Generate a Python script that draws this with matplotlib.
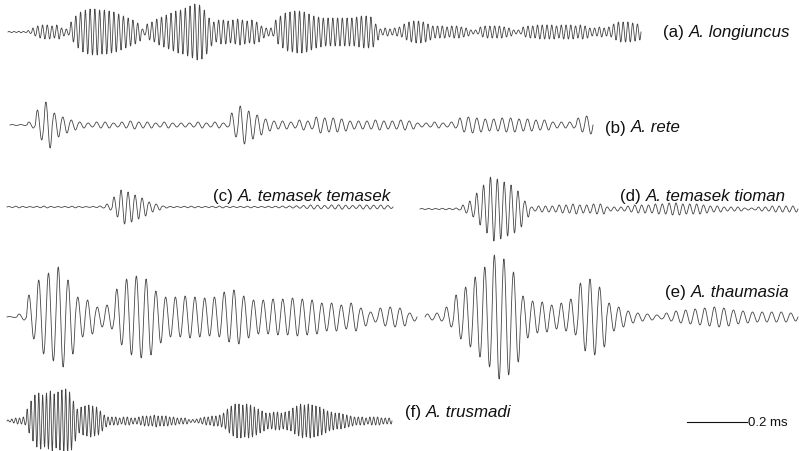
import numpy as np
import matplotlib
matplotlib.use("Agg")
import matplotlib.pyplot as plt

plt.rcParams["font.family"] = ["Liberation Sans", "DejaVu Sans"]

# peak amplitude of each successive cycle (pixels of the reference oscillogram)
amp_a = [0.6, 0.5, 0.7, 0.5, 1.5,
         4, 6, 7, 7, 6, 7, 4, 3,
         10, 16, 20, 22, 23, 23, 22, 22, 21, 20, 18, 16, 14, 12, 9,
         3,
         8, 10, 13, 15, 17, 19, 21, 22, 24, 26, 28, 27, 22, 14,
         10, 12, 12, 11, 12, 13, 12, 11, 12, 10, 6, 4, 4,
         12, 16, 19, 20, 21, 21, 20, 18, 16, 15, 14, 14, 14, 14, 14, 14, 14, 15, 16, 16, 15, 8,
         3, 4, 3, 4, 5,
         8, 10, 11, 11, 10, 8,
         6, 6, 6, 5, 6, 6, 5, 4,
         2, 2,
         5, 6, 6, 6, 6, 5, 4,
         2, 2,
         5, 6, 6, 7, 7, 7, 7, 6, 7, 7, 7, 6, 7, 6,
         4, 4, 5, 4, 5,
         8, 10, 10, 10, 9, 8]

amp_b = [0.5, 0.5,
         3, 15, 23, 12, 8, 5,
         3, 2, 3, 3, 2, 3, 4, 3, 3, 2, 3, 2, 2, 2, 3, 2, 3, 2,
         12, 19, 14, 10, 6,
         4, 4, 3, 5, 4, 8,
         7, 7, 6,
         4, 4, 4, 5, 4, 4, 5, 4,
         2, 2, 3, 2, 3,
         7, 8, 7, 6, 6, 7, 7, 6, 6, 5, 5,
         3, 3, 3,
         7, 9]

amp_c = [0.5, 0.8, 0.6, 0.4, 0.7, 0.9, 0.5, 0.4, 0.6, 0.8, 0.5, 0.4, 0.5, 1,
         3, 10, 17, 15, 12, 9, 5, 3,
         1, 0.6, 0.5, 0.7, 0.8, 0.6, 0.5, 0.7, 0.9, 0.7, 0.5, 0.6, 0.8, 0.6, 0.5, 0.7, 0.8, 0.9, 1, 1.2,
         1.5, 2, 1.8, 1.5, 2, 2.2, 1.8, 1.5, 2, 2, 1.8, 2, 1.5]

amp_d = [0.5, 0.6, 0.5, 0.7, 0.6, 1,
         4, 8, 16, 24, 32, 30, 27, 24, 18, 8,
         2, 3, 3, 3, 4,
         4, 5, 4, 4, 5, 5,
         2, 2, 2,
         3, 4, 4, 4, 5, 5, 6, 6, 5, 5, 5,
         4, 3, 3, 2, 2, 2,
         1, 1, 2, 2, 3, 3, 3, 3]

amp_e1 = [0.5, 3,
          22, 37, 44, 50, 37, 20, 17, 10, 12,
          28, 38, 41, 38, 26,
          20, 20, 21, 20, 19, 20,
          25, 27, 21,
          17, 17, 18, 18, 19, 18, 17,
          14, 14, 12, 14, 9, 5, 9, 10, 9, 4]

amp_e2 = [3, 4, 10, 22, 30, 40, 50, 62,
          58, 45, 21, 16, 15, 12, 14, 18, 34, 38,
          30, 14, 10, 6, 4, 3, 2,
          4, 6, 7, 8, 9, 10, 9, 7, 6, 5, 5, 5, 5, 4]

amp_f = [1, 2, 3, 3, 4,
         12, 20, 26, 28, 26, 28, 30, 27, 29, 31, 32, 29, 20,
         12, 14, 15, 16, 15, 14, 10, 6,
         4, 4, 4, 3, 4, 4, 3, 3, 4, 5, 5, 5, 6, 5, 5, 5, 4, 4, 3, 3, 3,
         1.5, 1.5, 2,
         3, 4, 4, 5, 5, 6, 8,
         12, 15, 17, 17, 16, 17, 16, 14, 12, 10,
         8, 8, 9, 9, 8, 9, 10,
         13, 15, 17, 16, 17, 16, 15, 14, 12,
         10, 9, 8, 8, 7, 6, 5,
         4, 4, 4, 3, 4, 4, 4, 3, 3, 3]

labels = ["(a)", "(b)", "(c)", "(d)", "(e)", "(f)"]
species = ["A. longiuncus", "A. rete", "A. temasek temasek",
           "A. temasek tioman", "A. thaumasia", "A. trusmadi"]
scale_label = "0.2 ms"

# layout: (amplitudes, x start, x end, baseline)
traces = [
    (amp_a, 8, 641, 33),
    (amp_b, 10, 593, 126),
    (amp_c, 7, 393, 208),
    (amp_d, 420, 798, 210),
    (amp_e1, 7, 417, 318),
    (amp_e2, 425, 798, 318),
    (amp_f, 7, 392, 422),
]
label_pos = [(663, 32), (605, 128), (213, 197), (620, 197), (665, 293), (405, 413)]

fig = plt.figure(figsize=(7.99, 4.52), dpi=100)
ax = fig.add_axes([0, 0, 1, 1])
ax.set_xlim(0, 799)
ax.set_ylim(452, 0)
ax.axis("off")

for amps, x0, x1, y0 in traces:
    n = len(amps)
    period = (x1 - x0) / n
    xs, ys = [], []
    for i, a in enumerate(amps):
        t = np.linspace(0, 1, 25)[:-1] if i < n - 1 else np.linspace(0, 1, 25)
        xs.append(x0 + (i + t) * period)
        ys.append(y0 - a * np.sin(2 * np.pi * t))
    ax.plot(np.concatenate(xs), np.concatenate(ys), color="#454545", lw=0.6)

renderer = fig.canvas.get_renderer()
for tag, name, (lx, ly) in zip(labels, species, label_pos):
    t1 = ax.text(lx, ly, tag + " ", fontsize=12.2, va="center", ha="left", color="#111111")
    bb = t1.get_window_extent(renderer)
    x_next = ax.transData.inverted().transform((bb.x1, bb.y0))[0]
    ax.text(x_next, ly, name, fontsize=12.2, style="italic", va="center", ha="left",
            color="#111111")

# scale bar
ax.plot([687, 747], [423, 423], color="#111111", lw=0.8)
ax.text(748, 423, scale_label, fontsize=9.5, va="center", ha="left", color="#111111")

fig.savefig("out.png", dpi=100)
